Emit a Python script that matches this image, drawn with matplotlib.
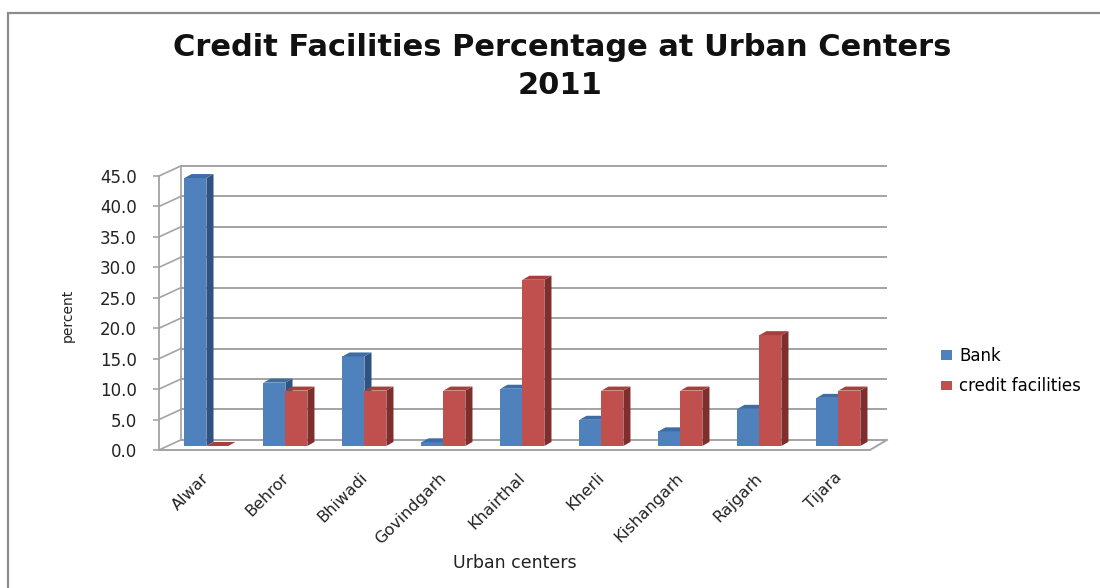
import matplotlib
matplotlib.use("Agg")
import matplotlib.pyplot as plt
from matplotlib.patches import Polygon, Rectangle

# ---- data ----
centers = ["Alwar", "Behror", "Bhiwadi", "Govindgarh", "Khairthal",
           "Kherli", "Kishangarh", "Rajgarh", "Tijara"]
bank = [44.0, 10.4, 14.7, 0.6, 9.4, 4.3, 2.4, 6.1, 7.9]
credit = [0.0, 9.1, 9.1, 9.1, 27.3, 9.1, 9.1, 18.2, 9.1]
yticks = [0, 5, 10, 15, 20, 25, 30, 35, 40, 45]
ytick_labels = [f"{v:.1f}" for v in yticks]
series_names = ["Bank", "credit facilities"]

plt.rcParams['font.family'] = ['DejaVu Sans']

W, H = 1100, 588
fig = plt.figure(figsize=(W / 100, H / 100), dpi=100)

grid_c = "#A3A3A3"
face = {"Bank": ("#4F81BD", "#2F5282", "#3E6DA5"),
        "credit facilities": ("#C0504D", "#7E2E2C", "#A7403D")}

# front plane of the 3-D box
ax = fig.add_axes([159 / W, 1 - 450 / H, 711 / W, 274 / H])
ax.set_xlim(0, 9)
ax.set_ylim(0, 45)
ax.patch.set_visible(False)
for s in ["top", "right", "bottom"]:
    ax.spines[s].set_visible(False)
ax.spines["left"].set_color(grid_c)
ax.spines["left"].set_linewidth(1.3)

# box depth (data units)
DX, DY = 0.278, 1.66
DX_R = 0.215

# back wall gridlines and left wall diagonals
for v in yticks:
    ax.plot([DX, 9 + DX_R], [v + DY, v + DY], color=grid_c, lw=1.4,
            zorder=1, clip_on=False, solid_capstyle="butt")
    ax.plot([0, DX], [v, v + DY], color=grid_c, lw=1.2, zorder=1, clip_on=False)
ax.plot([DX, DX], [DY, 45 + DY], color=grid_c, lw=1.2, zorder=1, clip_on=False)
# floor
ax.plot([0, 9, 9 + DX_R], [0, 0, DY], color=grid_c, lw=1.4, zorder=1, clip_on=False)

ax.set_yticks(yticks)
ax.set_yticklabels(ytick_labels)
ax.tick_params(axis="y", length=4, width=1.2, color=grid_c, pad=12,
               labelsize=12, labelcolor="#222222")
ax.set_xticks([])

# bars (front faces) with side and top faces for the 3-D look
w = 0.278
bx, by = 0.1, 0.66      # position of bar fronts inside the box
ddx, ddy = 0.09, 0.66   # bar depth
for k, (name, vals) in enumerate(zip(series_names, [bank, credit])):
    fc, sc, tc = face[name]
    xs = [i + 0.5 + bx + (k - 0.5) * w for i in range(len(centers))]
    bars = ax.bar(xs, vals, width=w, bottom=by, color=fc, linewidth=0,
                  zorder=2 + k, clip_on=False)
    for b, v in zip(bars, vals):
        xl = b.get_x()
        xr = xl + b.get_width()
        y0 = by
        y1 = by + v
        ax.add_patch(Polygon([(xr, y0), (xr + ddx, y0 + ddy), (xr + ddx, y1 + ddy), (xr, y1)],
                             closed=True, facecolor=sc, lw=0, zorder=2 + k, clip_on=False))
        ax.add_patch(Polygon([(xl, y1), (xr, y1), (xr + ddx, y1 + ddy), (xl + ddx, y1 + ddy)],
                             closed=True, facecolor=tc, lw=0, zorder=2 + k, clip_on=False))

# category labels
for i, name in enumerate(centers):
    ax.text(i + 0.5 + bx - 0.06, -3.3, name, rotation=45, ha="right", va="top",
            rotation_mode="anchor", fontsize=11.5, color="#222222")

fig.text(68 / W, 1 - 315 / H, "percent", rotation=90, ha="center", va="center",
         fontsize=10, color="#222222")
fig.text(515 / W, 1 - 563 / H, "Urban centers", ha="center", va="center",
         fontsize=12.5, color="#222222")

# titles
fig.text(562 / W, 1 - 47 / H, "Credit Facilities Percentage at Urban Centers",
         ha="center", va="center", fontsize=22, fontweight="bold", color="#111111")
fig.text(560 / W, 1 - 85 / H, "2011", ha="center", va="center",
         fontsize=22, fontweight="bold", color="#111111")

# legend
handles = [Rectangle((0, 0), 1, 1, facecolor=face[n][0], lw=0) for n in series_names]
fig.legend(handles, series_names, loc="upper left",
           bbox_to_anchor=(934 / W, 1 - 340 / H), frameon=False, fontsize=12,
           handlelength=0.7, handleheight=0.5, handletextpad=0.4,
           labelspacing=0.75, borderaxespad=0)

# outer chart border
fig.add_artist(Rectangle((8 / W, -0.1), 2, 1 - 13 / H + 0.1, transform=fig.transFigure,
                         fill=False, edgecolor="#8C8C8C", lw=1.6))

fig.savefig("out.png", dpi=100)
